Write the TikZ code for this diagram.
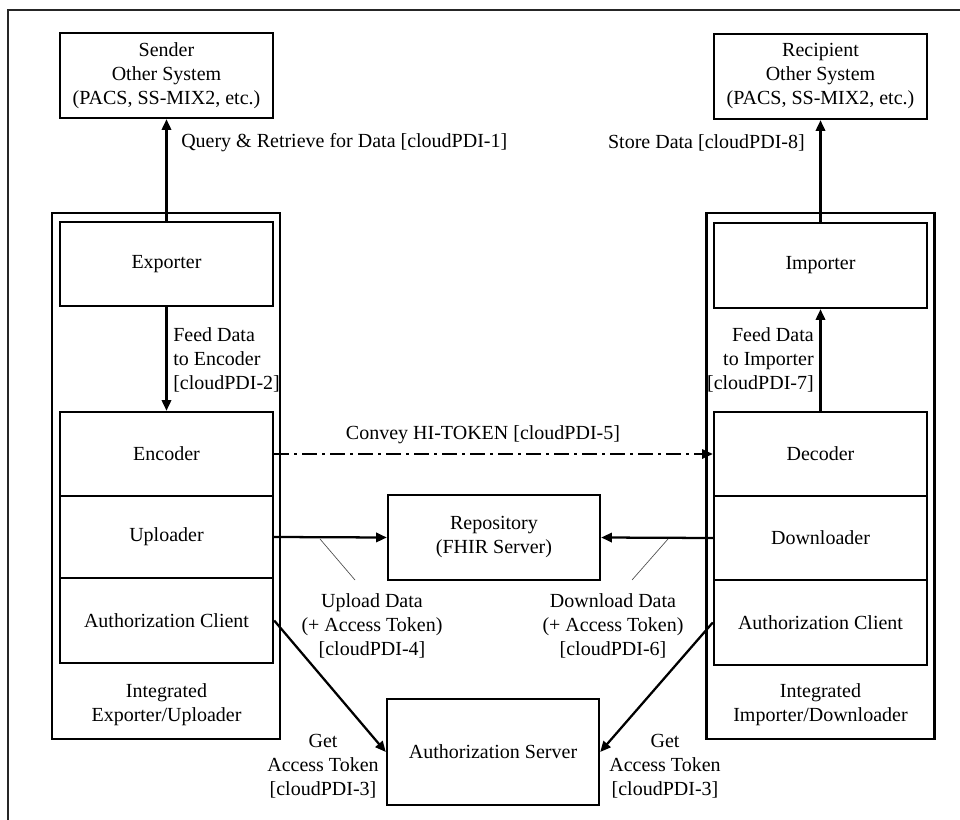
\documentclass[tikz,border=0pt]{standalone}
\usepackage{fontspec}
\setmainfont{Liberation Serif}
\usetikzlibrary{arrows.meta}
\begin{document}
\begin{tikzpicture}[x=0.75pt,y=-0.75pt,
  font=\fontsize{15}{18}\selectfont,
  box/.style={draw,line width=1.8pt,rectangle,inner sep=0pt,align=center,minimum width=159.75pt},
  cont/.style={draw,line width=1.6pt,rectangle,inner sep=0pt,minimum width=171pt,minimum height=394.5pt},
  lbl/.style={align=center,inner sep=0pt},
  arr/.style={line width=1.7pt,-{Triangle[length=8pt,width=7pt]}},
  dashdot/.style={line width=1.3pt,dash pattern=on 11pt off 4pt on 2pt off 4pt,-{Triangle[length=8pt,width=7pt]}},
  leader/.style={line width=0.5pt,black!70}]
\useasboundingbox (0,0) rectangle (960,820);
% outer frame (top and left only)
\draw[line width=1.3pt,black!85] (8,820) -- (8,10) -- (960,10);

% containers
\node[cont] (leftC) at (166,476) {};
\node[cont] (rightC) at (820.5,476) {};
\node[lbl] (leftCl) at (166.5,705) {Integrated\\Exporter/Uploader};
\node[lbl] (rightCl) at (820.5,705) {Integrated\\Importer/Downloader};

% top systems
\node[box,minimum height=63.75pt] (sender) at (166.5,75.5) {Sender\\Other System\\(PACS, SS-MIX2, etc.)};
\node[box,minimum height=63.75pt] (recip) at (820.5,76.5) {Recipient\\Other System\\(PACS, SS-MIX2, etc.)};

% left stack
\node[box,minimum height=63pt] (exporter) at (166.5,264) {Exporter};
\node[box,minimum height=63pt] (encoder) at (166.5,454) {Encoder};
\node[box,minimum height=61.5pt] (uploader) at (166.5,537) {Uploader};
\node[box,minimum height=63.75pt] (authL) at (166.5,620.5) {Authorization Client};

% right stack
\node[box,minimum height=63.75pt] (importer) at (820.5,265.5) {Importer};
\node[box,minimum height=63pt] (decoder) at (820.5,454) {Decoder};
\node[box,minimum height=63pt] (downloader) at (820.5,538) {Downloader};
\node[box,minimum height=63.75pt] (authR) at (820.5,622.5) {Authorization Client};

% center
\node[box,minimum width=159pt,minimum height=63.75pt] (repo) at (494,537.5) {Repository\\(FHIR Server)};
\node[box,minimum width=159pt,minimum height=79.5pt] (authS) at (493,752) {Authorization Server};

% arrows
\draw[arr] (exporter.north) -- (sender.south);
\draw[arr] (exporter.south) -- (encoder.north);
\draw[arr] (decoder.north -| importer.south) -- (importer.south);
\draw[arr] (importer.north) -- (recip.south);
\draw[dashdot] (encoder.east) -- (decoder.west);
\draw[arr] (uploader.east) -- (repo.west);
\draw[arr] (downloader.west) -- (repo.east);
\draw[arr] (authL.east) -- (authS.west);
\draw[arr] (authR.west) -- (authS.east);

% labels
\node[lbl,anchor=west] (q1) at (181,143) {Query \& Retrieve for Data [cloudPDI-1]};
\node[lbl,anchor=east] (q8) at (805,143) {Store Data [cloudPDI-8]};
\node[lbl,anchor=west,align=left] (q2) at (173,360) {Feed Data\\to Encoder\\{}[cloudPDI-2]};
\node[lbl,anchor=east,align=right] (q7) at (814,360) {Feed Data\\to Importer\\{}[cloudPDI-7]};
\node[lbl] (q5) at (483,435) {Convey HI-TOKEN [cloudPDI-5]};
\node[lbl] (q4) at (372,626) {Upload Data\\(+ Access Token)\\{}[cloudPDI-4]};
\node[lbl] (q6) at (613,626) {Download Data\\(+ Access Token)\\{}[cloudPDI-6]};
\node[lbl] (q3a) at (323,766) {Get\\Access Token\\{}[cloudPDI-3]};
\node[lbl] (q3b) at (665,766) {Get\\Access Token\\{}[cloudPDI-3]};

% leader lines
\coordinate (l4a) at (320,539);
\coordinate (l4b) at (355,580);
\coordinate (l6a) at (668,539);
\coordinate (l6b) at (632,580);
\draw[leader] (l4a) -- (l4b);
\draw[leader] (l6a) -- (l6b);
\end{tikzpicture}
\end{document}
